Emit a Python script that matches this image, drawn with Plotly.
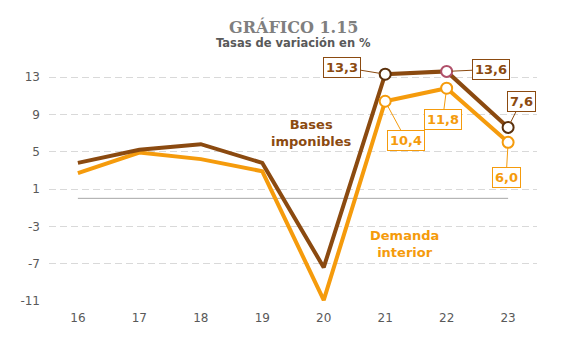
import plotly.graph_objects as go

years = [16, 17, 18, 19, 20, 21, 22, 23]
year_labels = ["16", "17", "18", "19", "20", "21", "22", "23"]
bases = [3.8, 5.2, 5.8, 3.8, -7.4, 13.3, 13.6, 7.6]
demanda = [2.7, 4.9, 4.2, 2.9, -10.9, 10.4, 11.8, 6.0]
y_ticks = [-11, -7, -3, 1, 5, 9, 13]
y_tick_labels = ["-11", "-7", "-3", "1", "5", "9", "13"]

BROWN = "#8B4A10"
ORANGE = "#F59B0C"
FONT = "Verdana, DejaVu Sans, sans-serif"

fig = go.Figure()

# zero reference line
fig.add_shape(type="line", x0=years[0], x1=years[-1], y0=0, y1=0,
              line=dict(color="#a6a6a6", width=1), layer="below")

fig.add_trace(go.Scatter(x=years, y=demanda, mode="lines",
                         line=dict(color=ORANGE, width=4), hoverinfo="skip",
                         cliponaxis=False))
fig.add_trace(go.Scatter(x=years, y=bases, mode="lines",
                         line=dict(color=BROWN, width=4), hoverinfo="skip",
                         cliponaxis=False))
# highlighted markers for last three years
fig.add_trace(go.Scatter(x=years[5:], y=demanda[5:], mode="markers",
                         marker=dict(size=11, color="white",
                                     line=dict(color=ORANGE, width=2)),
                         cliponaxis=False, hoverinfo="skip"))
fig.add_trace(go.Scatter(x=years[5:], y=bases[5:], mode="markers",
                         marker=dict(size=11, color="white",
                                     line=dict(color=["#5a300c", "#b0506a", "#5a300c"], width=2)),
                         cliponaxis=False, hoverinfo="skip"))

def lab(x, y, txt, color, ax, ay):
    fig.add_annotation(x=x, y=y, text=txt, showarrow=True, arrowhead=0,
                       arrowwidth=1, arrowcolor=color, ax=ax, ay=ay,
                       standoff=5,
                       font=dict(family=FONT, size=13, color=color, weight="bold"),
                       bordercolor=color, borderwidth=1, borderpad=2,
                       bgcolor="white")

lab(years[5], bases[5], "13,3", BROWN, -43, -7)
lab(years[6], bases[6], "13,6", BROWN, 44, -2)
lab(years[7], bases[7], "7,6", BROWN, 13, -26)
lab(years[5], demanda[5], "10,4", ORANGE, 21, 39)
lab(years[6], demanda[6], "11,8", ORANGE, -4, 31)
lab(years[7], demanda[7], "6,0", ORANGE, -2, 35)

fig.add_annotation(x=19.8, y=7.0, text="Bases<br>imponibles", showarrow=False,
                   font=dict(family=FONT, size=13, color=BROWN, weight="bold"))
fig.add_annotation(x=21.31, y=-4.9, text="Demanda<br>interior", showarrow=False,
                   font=dict(family=FONT, size=13, color=ORANGE, weight="bold"))

# titles
fig.add_annotation(xref="paper", yref="paper", x=0.5, y=1, yanchor="middle", yshift=36,
                   text="GRÁFICO 1.15", showarrow=False,
                   font=dict(family="DejaVu Serif, serif", size=16, color="#7f7f7f", weight="bold"))
fig.add_annotation(xref="paper", yref="paper", x=0.5, y=1, yanchor="middle", yshift=20,
                   text="<b>Tasas de variación en %</b>", showarrow=False,
                   font=dict(family=FONT, size=11.5, color="#595959"))

fig.update_layout(
    width=565, height=356,
    margin=dict(l=39, r=36, t=55, b=63),
    paper_bgcolor="white", plot_bgcolor="white",
    showlegend=False,
    font=dict(family=FONT, size=12, color="#595959"),
)
fig.update_xaxes(range=[15.53, 23.47], tickvals=years, ticktext=year_labels,
                 showgrid=False, zeroline=False, showline=False, ticks="",
                 ticklabelstandoff=8, tickfont=dict(size=12, color="#595959"))
fig.update_yaxes(range=[-11, 14.5], tickvals=y_ticks, ticktext=y_tick_labels,
                 showgrid=True, gridcolor="#d9d9d9", griddash="7px,4px", gridwidth=1,
                 zeroline=False, showline=False, ticks="",
                 ticklabelstandoff=8, tickfont=dict(size=12, color="#595959"))

fig.write_html("out.html")
